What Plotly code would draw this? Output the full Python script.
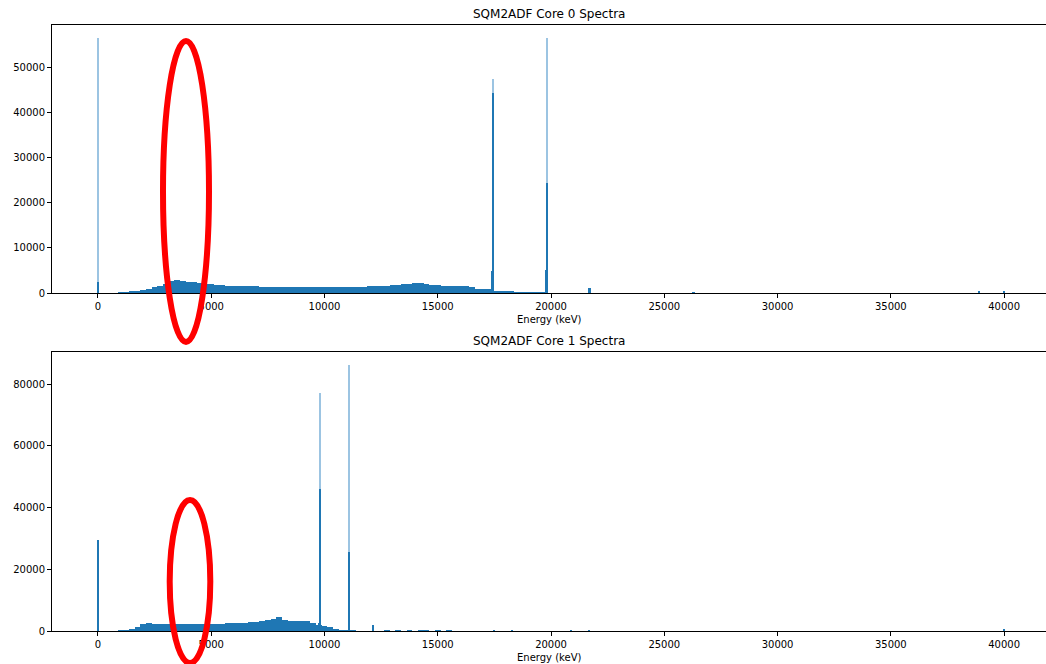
import plotly.graph_objects as go

# ---------------- data ----------------
BIN_START = 1000      # keV, first continuum bin centre
BIN_STEP = 250        # keV, continuum bin width

core0_continuum = [100, 200, 350, 500, 700, 950, 1250, 1600, 2000, 2750,
                   2850, 2650, 2500, 2350, 2200, 2050, 1900, 1800, 1700, 1650,
                   1600, 1550, 1500, 1480, 1450, 1420, 1400, 1380, 1350, 1330,
                   1320, 1300, 1300, 1290, 1290, 1290, 1300, 1300, 1310, 1320,
                   1340, 1360, 1390, 1420, 1460, 1500, 1550, 1620, 1700, 1800,
                   1900, 2000, 2150, 2150, 2000, 1850, 1750, 1650, 1600, 1550,
                   1500, 1450, 1300, 900, 850, 900, 450, 350, 300, 250,
                   120, 80, 60, 50, 50, 200]

core1_continuum = [100, 300, 700, 1500, 2500, 2600, 2500, 2450, 2400, 2400,
                   2400, 2400, 2400, 2400, 2400, 2400, 2450, 2450, 2500, 2550,
                   2600, 2700, 2800, 2950, 3100, 3300, 3600, 4100, 4500, 3700,
                   3400, 3300, 3200, 3200, 2600, 2000, 1700, 1300, 900, 550,
                   350, 120, 80, 60, 60, 60, 40, 150, 0, 200,
                   0, 250, 0, 150, 200, 0, 150, 0, 150, 0]

# sharp lines: energy, full height (thin bin), height of neighbouring bins
core0_peak_energy = [0, 17420, 19800]
core0_peak_top = [56600, 47300, 56600]
core0_peak_base = [2400, 44200, 24300]
core0_shoulder_energy = [17400, 19770]
core0_shoulder_height = [4900, 5000]
core0_minor_energy = [21710, 26300, 38900, 40000]
core0_minor_height = [1100, 150, 300, 400]

core1_peak_energy = [0, 9780, 11100]
core1_peak_top = [29700, 77200, 86400]
core1_peak_base = [29700, 46200, 25600]
core1_shoulder_energy = [9750, 11080]
core1_shoulder_height = [2800, 1500]
core1_minor_energy = [12170, 17500, 18300, 20900, 21700, 40000]
core1_minor_height = [2000, 300, 200, 300, 400, 800]

titles = ["SQM2ADF Core 0 Spectra", "SQM2ADF Core 1 Spectra"]
x_label = "Energy (keV)"
x_ticks = [0, 5000, 10000, 15000, 20000, 25000, 30000, 35000, 40000]
y_ticks_0 = [0, 10000, 20000, 30000, 40000, 50000]
y_ticks_1 = [0, 20000, 40000, 60000, 80000]

# ---------------- styling ----------------
DARK = "#1f77b4"
LIGHT = "#9cc4e2"
FONT = "DejaVu Sans"
W, H = 1046, 664
ML, MR, MT, MB = 52, 0, 25, 33
PW, PH = W - ML - MR, H - MT - MB


def py(pix):  # figure pixel y -> paper y
    return (H - MB - pix) / PH


def px(pix):  # figure pixel x -> paper x
    return (pix - ML) / PW


fig = go.Figure()

sets = [
    (core0_continuum, core0_peak_energy, core0_peak_top, core0_peak_base,
     core0_shoulder_energy, core0_shoulder_height, core0_minor_energy, core0_minor_height),
    (core1_continuum, core1_peak_energy, core1_peak_top, core1_peak_base,
     core1_shoulder_energy, core1_shoulder_height, core1_minor_energy, core1_minor_height),
]
axes = [("x", "y"), ("x2", "y2")]

for (cont, pe, pt, pb, se, sh, me, mh), (xa, ya) in zip(sets, axes):
    xs = [BIN_START + i * BIN_STEP for i in range(len(cont))]
    fig.add_trace(go.Bar(x=xs, y=cont, width=BIN_STEP, marker=dict(color=DARK, line=dict(width=0)),
                         xaxis=xa, yaxis=ya, showlegend=False))
    fig.add_trace(go.Bar(x=se, y=sh, width=110, marker=dict(color=DARK, line=dict(width=0)),
                         xaxis=xa, yaxis=ya, showlegend=False))
    fig.add_trace(go.Bar(x=me, y=mh, width=70, marker=dict(color=DARK, line=dict(width=0)),
                         xaxis=xa, yaxis=ya, showlegend=False))
    fig.add_trace(go.Bar(x=pe, y=pt, width=45, marker=dict(color=LIGHT, line=dict(width=0)),
                         xaxis=xa, yaxis=ya, showlegend=False))
    fig.add_trace(go.Bar(x=pe, y=pb, width=45, marker=dict(color=DARK, line=dict(width=0)),
                         xaxis=xa, yaxis=ya, showlegend=False))

top_dom = [py(293), 1.0]
bot_dom = [0.0, py(351.7)]
xrange = [-2030, 41850]

axis_common = dict(showline=True, linecolor="black", linewidth=1, ticks="outside",
                   ticklen=4, tickcolor="black", tickwidth=1, showgrid=False, zeroline=False,
                   tickfont=dict(family=FONT, size=10, color="black"))

fig.update_layout(
    width=W, height=H, margin=dict(l=ML, r=MR, t=MT, b=MB),
    plot_bgcolor="white", paper_bgcolor="white", barmode="overlay", bargap=0,
    font=dict(family=FONT, size=10, color="black"),
    xaxis=dict(domain=[0, 1], anchor="y", range=xrange, tickvals=x_ticks,
               ticktext=[str(v) for v in x_ticks], mirror=True, **axis_common),
    yaxis=dict(domain=top_dom, anchor="x", range=[0, 59370], tickvals=y_ticks_0,
               ticktext=[str(v) for v in y_ticks_0], **axis_common),
    xaxis2=dict(domain=[0, 1], anchor="y2", range=xrange, tickvals=x_ticks,
                ticktext=[str(v) for v in x_ticks], mirror=True, **axis_common),
    yaxis2=dict(domain=bot_dom, anchor="x2", range=[0, 90470], tickvals=y_ticks_1,
                ticktext=[str(v) for v in y_ticks_1], **axis_common),
)

annots = []
for t, dom in zip(titles, [top_dom, bot_dom]):
    annots.append(dict(text=t, xref="paper", yref="paper", x=0.5, y=dom[1], xanchor="center",
                       yanchor="bottom", yshift=2, showarrow=False,
                       font=dict(family=FONT, size=12, color="black")))
    annots.append(dict(text=x_label, xref="paper", yref="paper", x=0.5, y=dom[0], xanchor="center",
                       yanchor="top", yshift=-19, showarrow=False,
                       font=dict(family=FONT, size=10, color="black")))
fig.update_layout(annotations=annots)

# red hand-drawn ellipses
fig.add_shape(type="circle", xref="paper", yref="paper", layer="above",
              x0=px(163), x1=px(209), y0=py(342), y1=py(41),
              line=dict(color="red", width=6))
fig.add_shape(type="circle", xref="paper", yref="paper", layer="above",
              x0=px(169.7), x1=px(210.3), y0=py(663), y1=py(500),
              line=dict(color="red", width=6))

fig.write_html("out.html")
